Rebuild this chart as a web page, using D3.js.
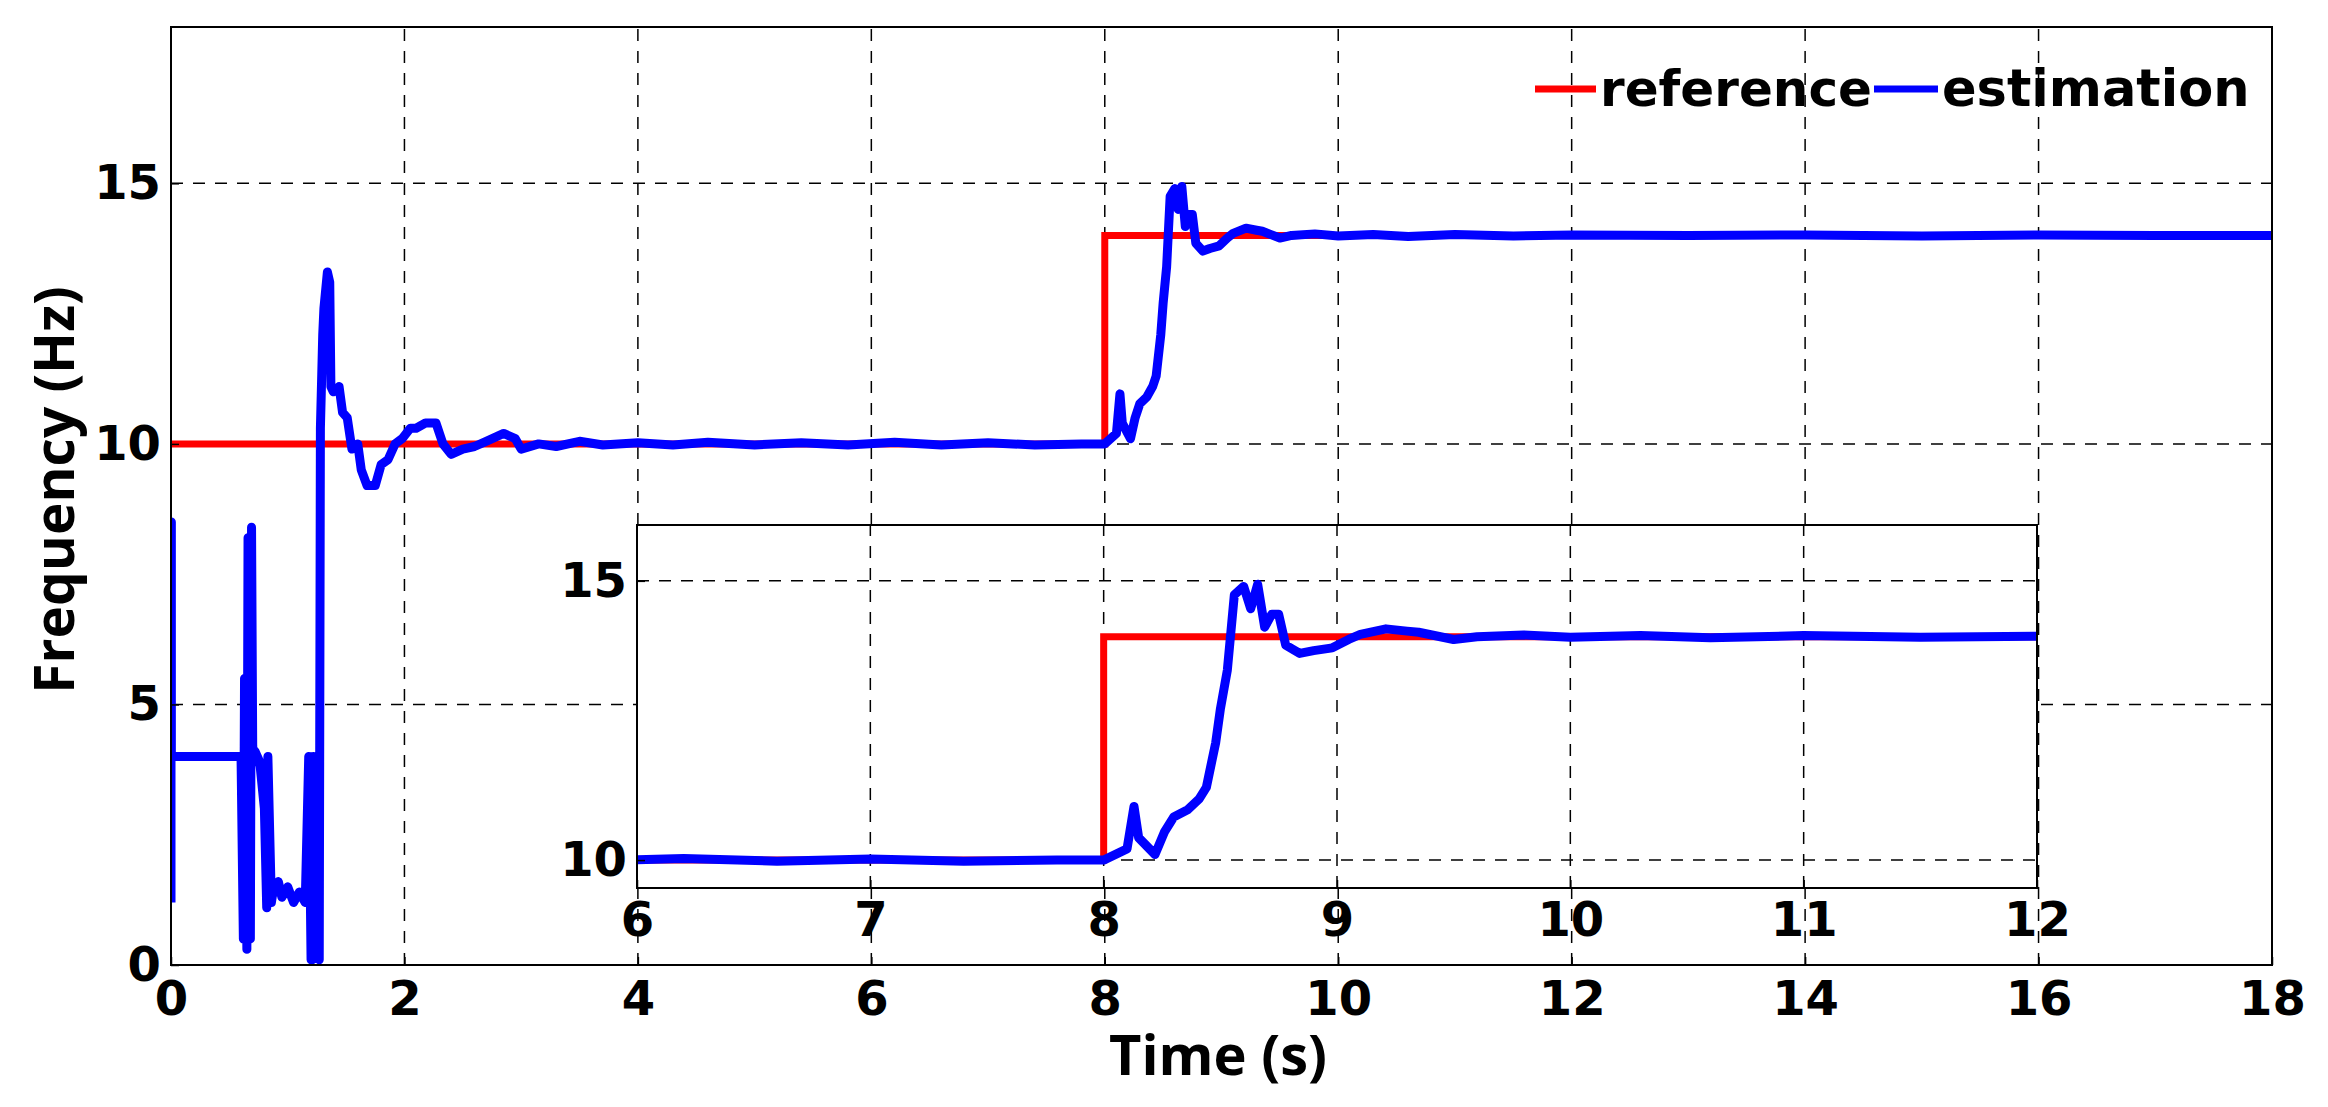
<!DOCTYPE html>
<html><head><meta charset="utf-8">
<script src="https://cdn.jsdelivr.net/npm/d3@7"></script>
<style>body{margin:0;background:#fff}svg{display:block}</style>
</head><body><svg id="c" width="2328" height="1107"></svg>
<script>
const refT = [0, 8, 8, 18];
const refF = [10, 10, 14, 14];
const estT = [0,0,0.003,0.003,0.6,0.62,0.63,0.65,0.66,0.68,0.69,0.7,0.71,0.72,0.74,0.76,0.8,0.82,0.83,0.86,0.88,0.9,0.92,0.95,1.0,1.05,1.1,1.15,1.18,1.2,1.21,1.22,1.24,1.26,1.27,1.28,1.3,1.31,1.34,1.36,1.37,1.39,1.44,1.47,1.51,1.55,1.6,1.63,1.68,1.75,1.8,1.86,1.92,1.98,2.05,2.1,2.18,2.27,2.33,2.4,2.5,2.6,2.7,2.85,2.95,3.0,3.15,3.3,3.5,3.7,4.0,4.3,4.6,5.0,5.4,5.8,6.2,6.6,7.0,7.4,7.8,8.0,8.1,8.13,8.15,8.22,8.26,8.3,8.36,8.41,8.44,8.48,8.5,8.53,8.56,8.6,8.63,8.66,8.69,8.72,8.75,8.78,8.84,8.9,8.98,9.05,9.1,9.21,9.3,9.35,9.5,9.6,9.8,10.0,10.3,10.6,11.0,11.5,12,13,14,15,16,17,18];
const estF = [1.2,8.5,8.5,4.0,4.0,0.5,5.5,0.3,8.2,0.5,8.4,4.2,3.9,4.1,4.0,3.9,3.0,1.1,4.0,1.2,1.5,1.4,1.6,1.3,1.5,1.2,1.4,1.2,4.0,0.1,0.1,4.0,1.2,1.2,0.1,10.3,12.1,12.6,13.3,13.1,11.1,11.0,11.1,10.6,10.5,9.9,10.0,9.5,9.2,9.2,9.6,9.7,10.0,10.1,10.3,10.3,10.4,10.4,10.0,9.8,9.9,9.95,10.05,10.2,10.1,9.9,10.0,9.95,10.05,9.98,10.02,9.98,10.03,9.98,10.02,9.98,10.03,9.98,10.02,9.98,10.0,10.0,10.2,10.96,10.4,10.1,10.5,10.77,10.9,11.1,11.3,12.1,12.7,13.4,14.75,14.9,14.5,14.94,14.17,14.4,14.4,13.85,13.7,13.75,13.8,13.95,14.04,14.14,14.1,14.08,13.95,14.0,14.03,13.99,14.02,13.98,14.02,13.99,14.01,14.0,14.01,13.99,14.01,14.0,14.0];

const svg = d3.select('#c');
const M = {l:171, r:2272, t:27, b:965};
const x = d3.scaleLinear().domain([0,18]).range([M.l,M.r]);
const y = d3.scaleLinear().domain([0,18]).range([M.b,M.t]);
const tickFont = "'DejaVu Sans', Verdana, sans-serif";
const xTicks = [0,2,4,6,8,10,12,14,16,18];
const yTicks = [0,5,10,15];

function panel(g, x, y, xt, yt, id, xLabOff){
  const X0=x.range()[0], X1=x.range()[1], Y0=y.range()[0], Y1=y.range()[1];
  g.append('rect').attr('x',X0).attr('y',Y1).attr('width',X1-X0).attr('height',Y0-Y1).attr('fill','#fff');
  g.append('clipPath').attr('id',id).append('rect').attr('x',X0).attr('y',Y1).attr('width',X1-X0).attr('height',Y0-Y1);
  const grid = g.append('g').attr('stroke','#000').attr('stroke-width',1.5).attr('stroke-dasharray','12,10');
  xt.forEach(v=>{ if(v>x.domain()[0]&&v<x.domain()[1]) grid.append('line').attr('x1',x(v)).attr('x2',x(v)).attr('y1',Y0).attr('y2',Y1);});
  yt.forEach(v=>{ if(v>y.domain()[0]&&v<y.domain()[1]) grid.append('line').attr('y1',y(v)).attr('y2',y(v)).attr('x1',X0).attr('x2',X1);});
  const c = g.append('g').attr('clip-path',`url(#${id})`);
  const line = d3.line().x(d=>x(d[0])).y(d=>y(d[1]));
  c.append('path').datum(refT.map((t,i)=>[t,refF[i]])).attr('d',line).attr('fill','none').attr('stroke','#ff0000').attr('stroke-width',7);
  c.append('path').datum(estT.map((t,i)=>[t,estF[i]])).attr('d',line).attr('fill','none').attr('stroke','#0000ff').attr('stroke-width',9).attr('stroke-linejoin','round');
  g.append('rect').attr('x',X0).attr('y',Y1).attr('width',X1-X0).attr('height',Y0-Y1).attr('fill','none').attr('stroke','#000').attr('stroke-width',2);
  const ax = g.append('g').attr('transform',`translate(0,${Y0})`).call(d3.axisBottom(x).tickValues(xt).tickSize(-8).tickPadding(xLabOff).tickFormat(d3.format('d')));
  const ay = g.append('g').attr('transform',`translate(${X0},0)`).call(d3.axisLeft(y).tickValues(yt).tickSize(-8).tickPadding(10).tickFormat(d3.format('d')));
  [ax,ay].forEach(a=>{a.select('.domain').remove(); a.selectAll('line').attr('stroke','#000').attr('stroke-width',1.5);
    a.selectAll('text').attr('font-family',tickFont).attr('font-weight','bold').attr('font-size',48).attr('fill','#000');});
}
panel(svg.append('g'), x, y, xTicks, yTicks, 'cm', 16);

const xi = d3.scaleLinear().domain([6,12]).range([637,2037]);
const yi = d3.scaleLinear().domain([9.5,16]).range([888,525]);
panel(svg.append('g'), xi, yi, [6,7,8,9,10,11,12], [10,15], 'ci', 14);

// legend
const lg = svg.append('g');
lg.append('line').attr('x1',1535).attr('x2',1596).attr('y1',89).attr('y2',89).attr('stroke','#ff0000').attr('stroke-width',7);
lg.append('text').attr('x',1600).attr('y',106).text('reference').attr('font-family',tickFont).attr('font-weight','bold').attr('font-size',50);
lg.append('line').attr('x1',1874).attr('x2',1938).attr('y1',89).attr('y2',89).attr('stroke','#0000ff').attr('stroke-width',7);
lg.append('text').attr('x',1942).attr('y',106).text('estimation').attr('font-family',tickFont).attr('font-weight','bold').attr('font-size',51);

svg.append('text').attr('x',1218).attr('y',1075).attr('text-anchor','middle').text('Time (s)')
  .attr('font-family',"'Open Sans', sans-serif").attr('font-weight','bold').attr('font-size',56);
svg.append('text').attr('transform','translate(74,490) rotate(-90)').attr('text-anchor','middle').text('Frequency (Hz)')
  .attr('font-family',"'Open Sans', sans-serif").attr('font-weight','bold').attr('font-size',55);
</script></body></html>
